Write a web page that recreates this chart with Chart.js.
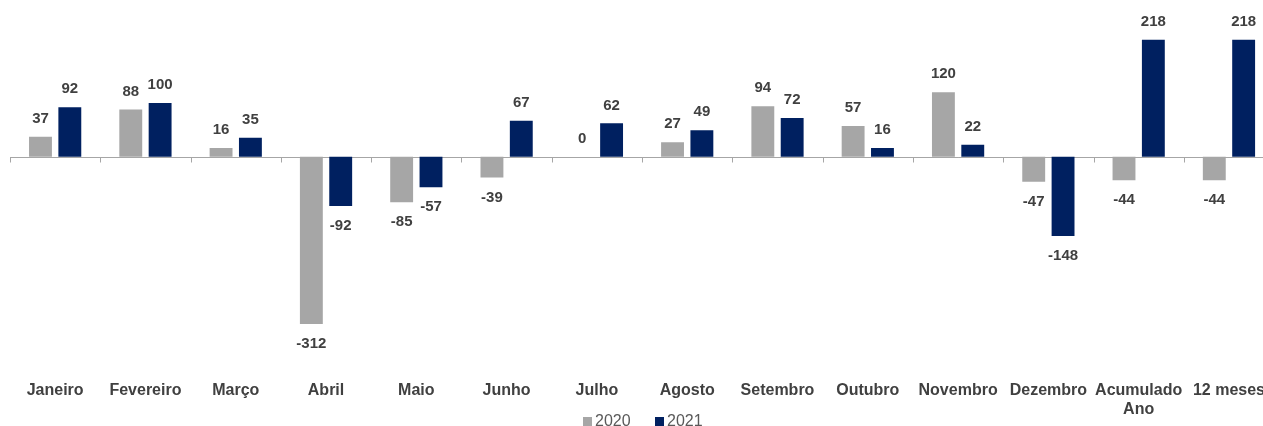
<!DOCTYPE html>
<html>
<head>
<meta charset="utf-8">
<script src="https://cdn.jsdelivr.net/npm/chart.js@4.4.1/dist/chart.umd.min.js"></script>
<style>
  html, body { margin: 0; padding: 0; background: #fff; overflow: hidden; }
  #chart { display: block; }
</style>
</head>
<body>
<canvas id="chart" width="1285" height="457"></canvas>
<script>
// dados
const meses = ["Janeiro", "Fevereiro", "Março", "Abril", "Maio", "Junho", "Julho", "Agosto",
    "Setembro", "Outubro", "Novembro", "Dezembro", ["Acumulado", "Ano"], "12 meses"];
const valores2020 = [37, 88, 16, -312, -85, -39, 0, 27, 94, 57, 120, -47, -44, -44];
const valores2021 = [92, 100, 35, -92, -57, 67, 62, 49, 72, 16, 22, -148, 218, 218];

const fonte = "'Liberation Sans', Arial, sans-serif";

// linha do zero com marcas entre categorias
const linhaZero = {
    id: "linhaZero",
    beforeDatasetsDraw(chart) {
        let ctx = chart.ctx;
        let x = chart.scales.x, y = chart.scales.y;
        let y0 = Math.round(y.getPixelForValue(0)) + 0.5;
        ctx.save();
        ctx.strokeStyle = "#a6a6a6";
        ctx.lineWidth = 1;
        ctx.beginPath();
        ctx.moveTo(x.left, y0);
        ctx.lineTo(x.right, y0);
        let w = (x.right - x.left) / meses.length;
        for (let i = 0; i <= meses.length; i++) {
            let px = Math.round(x.left + i * w) + 0.5;
            ctx.moveTo(px, y0);
            ctx.lineTo(px, y0 + 5);
        }
        ctx.stroke();
        ctx.restore();
    }
};

// rótulos de valores
const rotulos = {
    id: "rotulos",
    afterDatasetsDraw(chart) {
        let ctx = chart.ctx;
        ctx.save();
        ctx.font = "bold 15px " + fonte;
        ctx.fillStyle = "#404040";
        ctx.textAlign = "center";
        ctx.textBaseline = "middle";
        chart.data.datasets.forEach((ds, i) => {
            chart.getDatasetMeta(i).data.forEach((bar, j) => {
                let v = ds.data[j];
                let yy = v >= 0 ? bar.y - 18 : bar.y + 20;
                ctx.fillText(String(v), bar.x, yy);
            });
        });
        ctx.restore();
    }
};

// legenda desenhada à mão
const legenda = {
    id: "legenda",
    afterDraw(chart) {
        let ctx = chart.ctx;
        ctx.save();
        ctx.font = "16px " + fonte;
        ctx.textBaseline = "middle";
        ctx.textAlign = "left";
        let pos = [583, 655];
        chart.data.datasets.forEach((ds, i) => {
            ctx.fillStyle = ds.backgroundColor;
            ctx.fillRect(pos[i], 417, 9, 9);
            ctx.fillStyle = "#595959";
            ctx.fillText(ds.label, pos[i] + 12, 422);
        });
        ctx.restore();
    }
};

new Chart(document.getElementById("chart"), {
    type: "bar",
    data: {
        labels: meses,
        datasets: [
            { label: "2020", data: valores2020, backgroundColor: "#a6a6a6" },
            { label: "2021", data: valores2021, backgroundColor: "#002060" }
        ]
    },
    options: {
        responsive: false,
        animation: false,
        layout: { padding: { left: 10, right: 0, top: 1, bottom: 18 } },
        datasets: { bar: { categoryPercentage: 0.65, barPercentage: 0.78 } },
        plugins: {
            legend: { display: false },
            tooltip: { enabled: false }
        },
        scales: {
            x: {
                grid: { display: false, drawTicks: false },
                border: { display: false },
                ticks: {
                    padding: 20,
                    maxRotation: 0,
                    autoSkip: false,
                    color: "#404040",
                    font: { family: fonte, size: 16, weight: "bold" }
                }
            },
            y: {
                display: false,
                min: -380,
                max: 290
            }
        }
    },
    plugins: [linhaZero, rotulos, legenda]
});
</script>
</body>
</html>
